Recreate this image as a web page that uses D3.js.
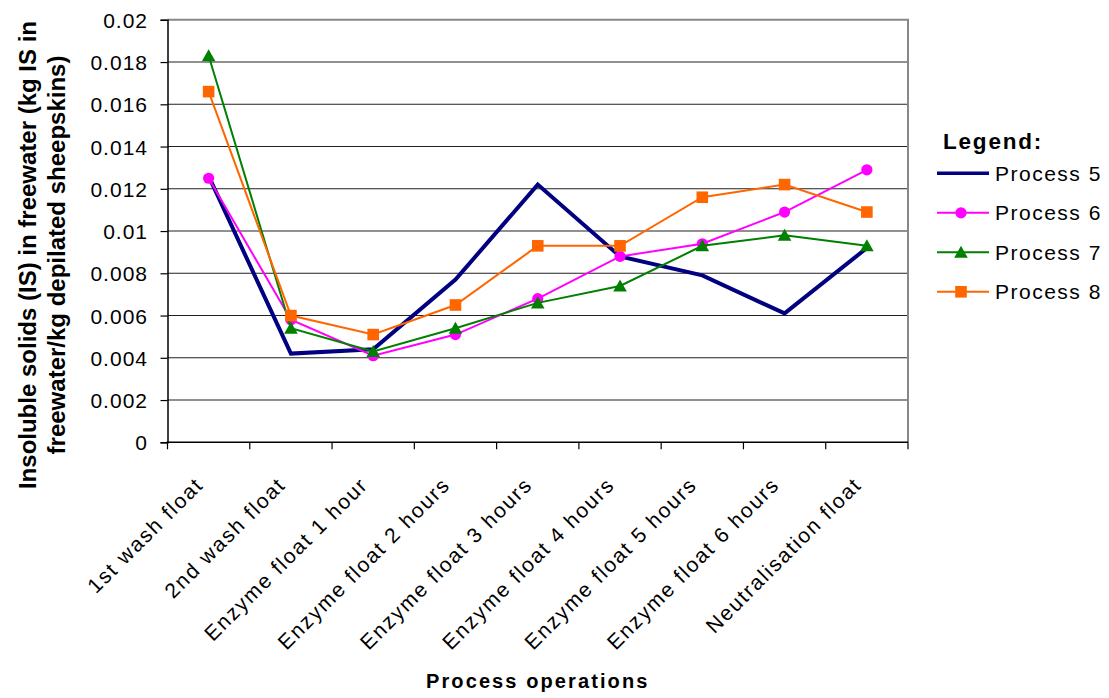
<!DOCTYPE html>
<html>
<head>
<meta charset="utf-8">
<script src="https://cdn.jsdelivr.net/npm/d3@7"></script>
<style>
  html, body { margin: 0; padding: 0; background: #fff; }
  svg { display: block; font-family: "Liberation Sans", Arial, sans-serif; }
</style>
</head>
<body>
<svg id="chart" width="1109" height="698"></svg>
<script>
// Process operations along the x axis
const categories = [
  "1st wash float", "2nd wash float", "Enzyme float 1 hour", "Enzyme float 2 hours",
  "Enzyme float 3 hours", "Enzyme float 4 hours", "Enzyme float 5 hours",
  "Enzyme float 6 hours", "Neutralisation float"
];

// Insoluble solids (kg IS in freewater / kg depilated sheepskins)
const process5 = [0.0126, 0.0042, 0.0044, 0.0077, 0.0122, 0.0088, 0.0079, 0.0061, 0.0092];
const process6 = [0.0125, 0.0058, 0.0041, 0.0051, 0.0068, 0.0088, 0.0094, 0.0109, 0.0129];
const process7 = [0.0183, 0.0054, 0.0043, 0.0054, 0.0066, 0.0074, 0.0093, 0.0098, 0.0093];
const process8 = [0.0166, 0.0060, 0.0051, 0.0065, 0.0093, 0.0093, 0.0116, 0.0122, 0.0109];

const seriesNames = ["Process 5", "Process 6", "Process 7", "Process 8"];
const yTicks = [0, 0.002, 0.004, 0.006, 0.008, 0.01, 0.012, 0.014, 0.016, 0.018, 0.02];

const series = [
  { name: seriesNames[0], values: process5, color: "#000080", width: 4, marker: null },
  { name: seriesNames[1], values: process6, color: "#FF00FF", width: 2, marker: "circle" },
  { name: seriesNames[2], values: process7, color: "#008000", width: 2, marker: "triangle" },
  { name: seriesNames[3], values: process8, color: "#FF6600", width: 2, marker: "square" }
];

const svg = d3.select("#chart");
const plot = { left: 167.5, right: 908, top: 19.8, bottom: 442.3 };

const x = d3.scaleBand().domain(categories).range([plot.left, plot.right]).padding(0);
const cx = c => x(c) + x.bandwidth() / 2;
const y = d3.scaleLinear().domain([0, 0.02]).range([plot.bottom, plot.top]);

// Horizontal gridlines
svg.append("g")
  .selectAll("line")
  .data(yTicks.filter(t => t > 0 && t < 0.02))
  .join("line")
  .attr("x1", plot.left).attr("x2", plot.right)
  .attr("y1", d => y(d)).attr("y2", d => y(d))
  .attr("stroke", "#222").attr("stroke-width", 1.1);

// Plot-area frame (top and right)
svg.append("path")
  .attr("d", `M${plot.left},${y(0.02)}H${plot.right}V${plot.bottom}`)
  .attr("fill", "none").attr("stroke", "#888").attr("stroke-width", 2);

// Y axis
const yAxis = svg.append("g").attr("transform", `translate(${plot.left},0)`)
  .call(d3.axisLeft(y).tickValues(yTicks).tickSize(7).tickPadding(0)
    .tickFormat(d => String(+d.toFixed(3))));
yAxis.select(".domain").attr("stroke", "#000").attr("stroke-width", 1.5);
yAxis.selectAll(".tick line").attr("stroke", "#000").attr("stroke-width", 1.2);
yAxis.selectAll(".tick text")
  .attr("x", -19.5).attr("dy", "0.36em")
  .attr("fill", "#000")
  .style("font-size", "21px").style("letter-spacing", "1px")
  .style("font-family", "'Liberation Sans', Arial, sans-serif");

// X axis: ticks sit on category boundaries
const xAxis = svg.append("g").attr("transform", `translate(0,${plot.bottom})`);
xAxis.append("line")
  .attr("x1", plot.left - 1).attr("x2", plot.right)
  .attr("stroke", "#000").attr("stroke-width", 1.5);
const boundaries = categories.map(c => x(c)).concat([plot.right]);
xAxis.selectAll("line.tick")
  .data(boundaries)
  .join("line").attr("class", "tick")
  .attr("x1", d => d).attr("x2", d => d)
  .attr("y1", 0).attr("y2", 7)
  .attr("stroke", "#000").attr("stroke-width", 1.2);

svg.append("g")
  .selectAll("text")
  .data(categories)
  .join("text")
  .attr("transform", d => `translate(${cx(d) - 4},${486}) rotate(-45)`)
  .attr("text-anchor", "end")
  .style("font-size", "21px").style("letter-spacing", "1.8px")
  .attr("fill", "#000")
  .text(d => d);

// Axis titles
svg.append("text")
  .attr("x", (plot.left + plot.right) / 2).attr("y", 688)
  .attr("text-anchor", "middle")
  .style("font-size", "20px").style("font-weight", "bold").style("letter-spacing", "2.1px")
  .text("Process operations");

const yTitle = svg.append("text")
  .attr("transform", "translate(36,255) rotate(-90)")
  .attr("text-anchor", "middle")
  .style("font-size", "24px").style("font-weight", "bold");
yTitle.append("tspan").attr("x", 0).attr("y", 0)
  .text("Insoluble solids (IS) in freewater (kg IS in");
yTitle.append("tspan").attr("x", 0).attr("y", 29)
  .text("freewater/kg depilated sheepskins)");

// Marker drawing
function drawMarker(g, type, color) {
  if (type === "circle") {
    g.append("circle").attr("r", 5.6).attr("fill", color);
  } else if (type === "square") {
    g.append("rect").attr("x", -5.8).attr("y", -5.8).attr("width", 11.6).attr("height", 11.6)
      .attr("fill", color);
  } else if (type === "triangle") {
    g.append("path").attr("d", "M0,-6.5L6.8,5.5L-6.8,5.5Z").attr("fill", color);
  }
}

// Series lines and markers
const line = d3.line().x((d, i) => cx(categories[i])).y(d => y(d));
series.forEach(s => {
  const g = svg.append("g");
  g.append("path")
    .attr("d", line(s.values))
    .attr("fill", "none")
    .attr("stroke", s.color)
    .attr("stroke-width", s.width)
    .attr("stroke-linejoin", "miter");
  if (s.marker) {
    s.values.forEach((v, i) => {
      const m = g.append("g").attr("transform", `translate(${cx(categories[i])},${y(v)})`);
      drawMarker(m, s.marker, s.color);
    });
  }
});

// Legend
const legend = svg.append("g");
legend.append("text")
  .attr("x", 943).attr("y", 148.5)
  .style("font-size", "22.5px").style("font-weight", "bold").style("letter-spacing", "1.8px")
  .text("Legend:");
series.forEach((s, i) => {
  const ry = 173.3 + i * 39.5;
  legend.append("line")
    .attr("x1", 937).attr("x2", 989).attr("y1", ry).attr("y2", ry)
    .attr("stroke", s.color).attr("stroke-width", s.width === 4 ? 3.4 : 2);
  if (s.marker) {
    const m = legend.append("g").attr("transform", `translate(961,${ry})`);
    drawMarker(m, s.marker, s.color);
  }
  legend.append("text")
    .attr("x", 995).attr("y", ry + 7.5)
    .style("font-size", "21px").style("letter-spacing", "1.5px")
    .text(s.name);
});
</script>
</body>
</html>
